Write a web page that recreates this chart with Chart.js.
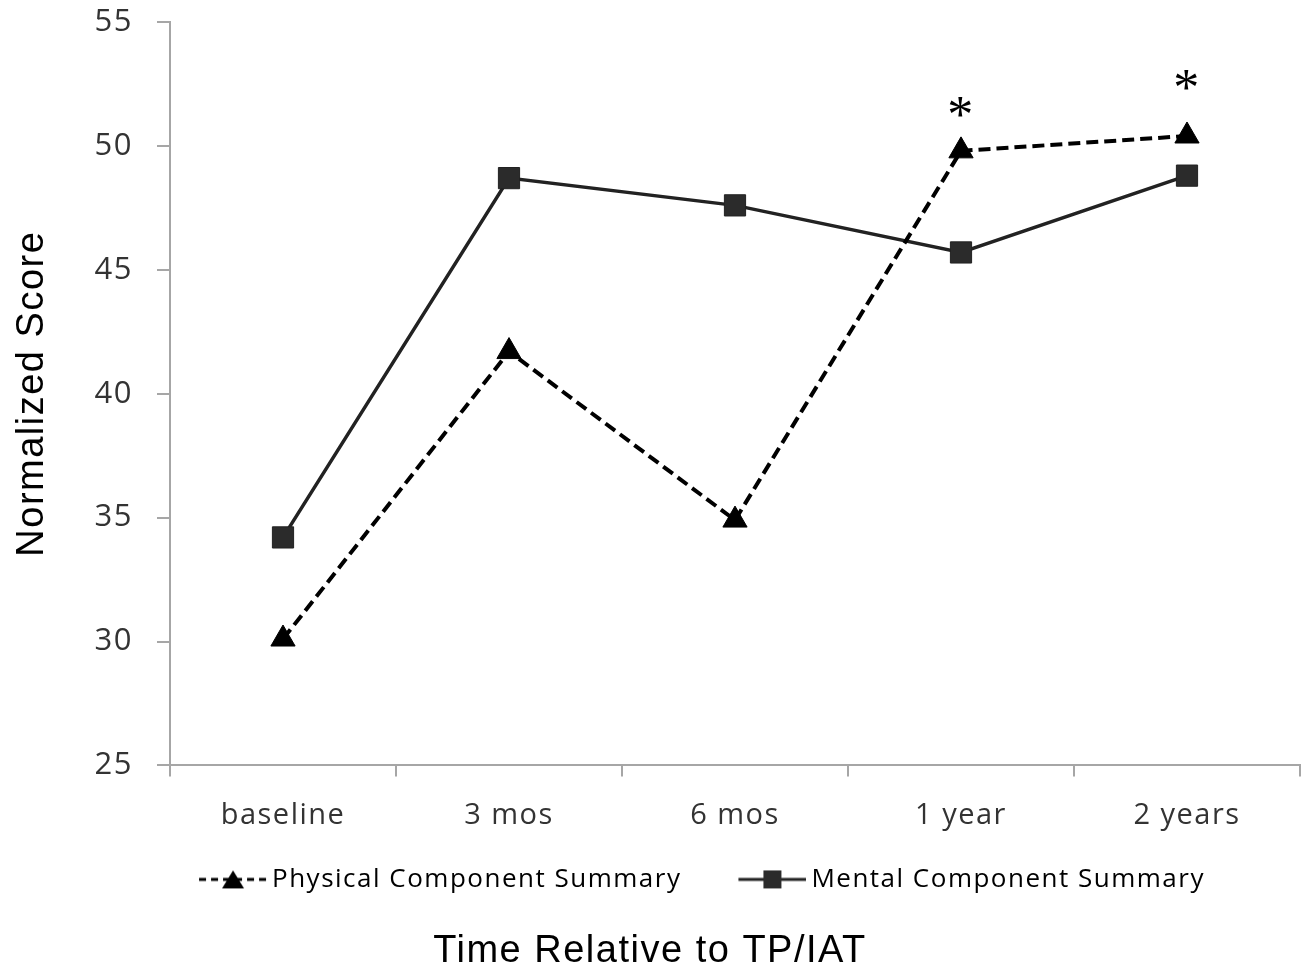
<!DOCTYPE html>
<html>
<head>
<meta charset="utf-8">
<script src="https://cdn.jsdelivr.net/npm/chart.js@4/dist/chart.umd.min.js"></script>
<style>
  html, body { margin: 0; padding: 0; background: #fff; }
  #wrap { width: 1306px; height: 974px; }
</style>
</head>
<body>
<div id="wrap"><canvas id="chart" width="1306" height="974"></canvas></div>
<script>
// time points
const categories = ['baseline', '3 mos', '6 mos', '1 year', '2 years'];

// normalized scores
const physicalScores = [30.1, 41.7, 34.9, 49.8, 50.4];
const mentalScores = [34.2, 48.7, 47.6, 45.7, 48.8];

// where the significance asterisks sit (score units), null = none
const sigLevels = [null, null, null, 51.6, 52.7];

const yTicks = [25, 30, 35, 40, 45, 50, 55];

const AXIS_GREY = '#a6a6a6';
const TICK_FONT = 'Open Sans';
const LEGEND_SHIFT = 32;

// legend swatch: line + marker. image is wider than the box so the line
// runs right up to the label, like in the original
function swatch(kind) {
  const c = document.createElement('canvas');
  c.width = 116; c.height = 24;
  const g = c.getContext('2d');
  g.strokeStyle = kind === 'dash' ? '#000' : '#222';
  g.fillStyle = kind === 'dash' ? '#000' : '#2b2b2b';
  g.lineWidth = 3;
  if (kind === 'dash') g.setLineDash([7, 5]);
  g.beginPath(); g.moveTo(48, 12); g.lineTo(116, 12); g.stroke();
  g.setLineDash([]);
  if (kind === 'dash') {
    g.beginPath(); g.moveTo(82, 3); g.lineTo(93, 21); g.lineTo(71, 21); g.closePath(); g.fill();
  } else {
    g.fillRect(73, 3, 18, 18);
  }
  return c;
}

// the original text is set a little loose
const spacing = {
  id: 'spacing',
  beforeUpdate(chart) { chart.ctx.letterSpacing = '1.5px'; },
  beforeDraw(chart) { chart.ctx.letterSpacing = '1.5px'; },
  afterLayout(chart) {
    chart.legend.left += LEGEND_SHIFT;
    chart.legend.right += LEGEND_SHIFT;
  }
};

const asterisks = {
  id: 'asterisks',
  afterDatasetsDraw(chart) {
    const {ctx, scales: {x, y}} = chart;
    ctx.save();
    ctx.font = '52px "Liberation Serif"';
    ctx.fillStyle = '#000';
    ctx.textAlign = 'center';
    ctx.textBaseline = 'middle';
    sigLevels.forEach((v, i) => {
      if (v == null) return;
      ctx.fillText('*', x.getPixelForValue(i), y.getPixelForValue(v) + 12);
    });
    ctx.restore();
  }
};

new Chart(document.getElementById('chart'), {
  type: 'line',
  data: {
    labels: categories,
    datasets: [
      {
        label: 'Physical Component Summary',
        data: physicalScores,
        borderColor: '#000',
        backgroundColor: '#000',
        borderWidth: 4,
        borderDash: [12, 6],
        pointStyle: 'triangle',
        pointRadius: 14,
        pointBorderWidth: 1,
        tension: 0
      },
      {
        label: 'Mental Component Summary',
        data: mentalScores,
        borderColor: '#222',
        backgroundColor: '#2b2b2b',
        borderWidth: 3.5,
        pointStyle: 'rect',
        pointRadius: 15,
        pointBorderWidth: 1,
        tension: 0
      }
    ]
  },
  options: {
    responsive: false,
    animation: false,
    layout: { autoPadding: false, padding: { top: 22, right: 6, left: 0, bottom: 0 } },
    plugins: {
      tooltip: { enabled: false },
      legend: {
        position: 'bottom',
        labels: {
          usePointStyle: true,
          pointStyleWidth: 100,
          padding: 17,
          color: '#111',
          font: { family: TICK_FONT, size: 26 },
          generateLabels: (chart) => chart.data.datasets.map((ds, i) => ({
            text: ds.label,
            datasetIndex: i,
            pointStyle: swatch(i === 0 ? 'dash' : 'solid'),
            fillStyle: ds.backgroundColor,
            strokeStyle: ds.borderColor,
            lineWidth: 0,
            hidden: false
          }))
        }
      },
      title: {
        display: true,
        position: 'bottom',
        text: 'Time Relative to TP/IAT',
        color: '#000',
        font: { family: 'Liberation Sans', size: 38, weight: 'normal' },
        padding: { top: 26, bottom: 0 }
      }
    },
    scales: {
      x: {
        offset: true,
        grid: { offset: true, drawOnChartArea: false, tickLength: 11, color: AXIS_GREY, lineWidth: 2 },
        border: { color: AXIS_GREY, width: 2 },
        ticks: { color: '#333', padding: 22, font: { family: TICK_FONT, size: 29 } },
        afterFit: (s) => { s.height = 84; s.paddingLeft = 0; s.paddingRight = 0; }
      },
      y: {
        min: 25,
        max: 55,
        afterBuildTicks: (s) => { s.ticks = yTicks.map(v => ({ value: v })); },
        grid: { drawOnChartArea: false, tickLength: 13, color: AXIS_GREY, lineWidth: 2 },
        border: { color: AXIS_GREY, width: 2 },
        ticks: { color: '#333', padding: 24, font: { family: TICK_FONT, size: 31 } },
        title: {
          display: true,
          text: 'Normalized Score',
          color: '#000',
          font: { family: 'Liberation Sans', size: 38 },
          padding: { top: 10, bottom: 0 }
        },
        afterFit: (s) => { s.width = 170; s.paddingTop = 0; s.paddingBottom = 0; }
      }
    }
  },
  plugins: [spacing, asterisks]
});
</script>
</body>
</html>
